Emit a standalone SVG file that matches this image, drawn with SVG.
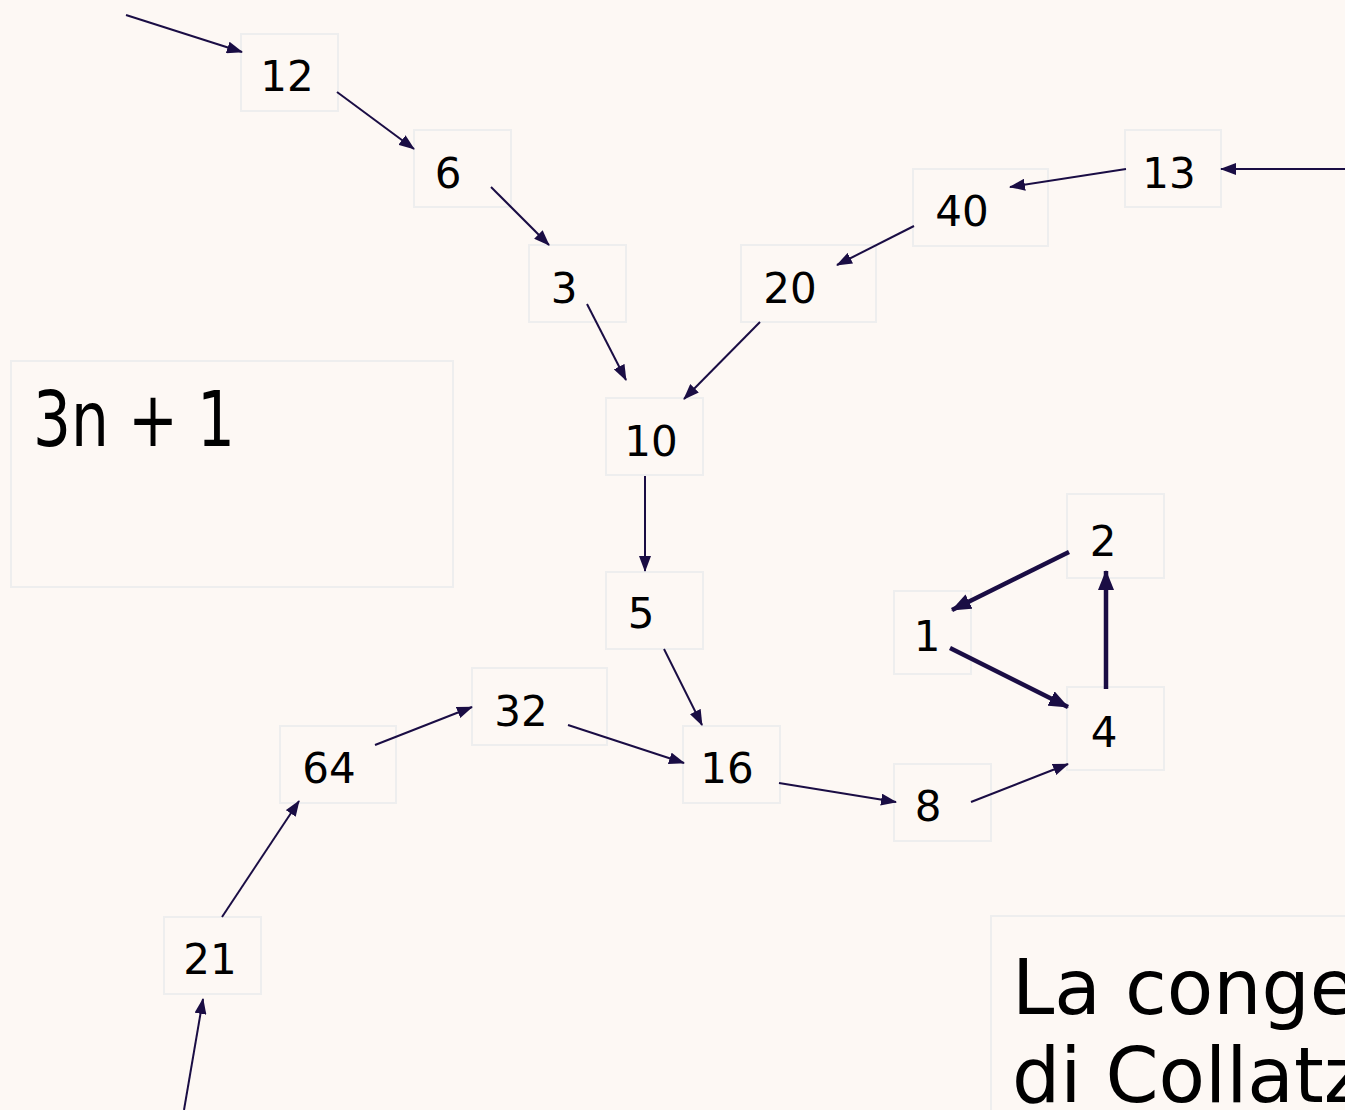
<svg xmlns="http://www.w3.org/2000/svg" width="1345" height="1110" viewBox="0 0 1345 1110">
<style>
.box{fill:none;stroke:#eeeeee;stroke-width:2}
.lbl{font-family:"DejaVu Sans","Liberation Sans",sans-serif;font-size:42px;fill:#000;text-anchor:middle}
.big{font-family:"DejaVu Sans","Liberation Sans",sans-serif;font-size:76px;fill:#000}
.c{stroke:#1a0d44;stroke-width:2;fill:none;marker-end:url(#ah)}
.ct{stroke:#1a0d44;stroke-width:4.5;fill:none;marker-end:url(#ahb)}
</style>
<defs>
<marker id="ah" markerUnits="userSpaceOnUse" markerWidth="16" markerHeight="12" refX="15" refY="6" orient="auto"><path d="M0,0 L16,6 L0,12 z" fill="#1a0d44"/></marker>
<marker id="ahb" markerUnits="userSpaceOnUse" markerWidth="20" markerHeight="16" refX="19" refY="8" orient="auto"><path d="M0,0 L20,8 L0,16 z" fill="#1a0d44"/></marker>
</defs>
<rect width="1345" height="1110" fill="#fdf8f4"/>
<g id="box-3n1"><rect class="box" x="11" y="361" width="442" height="226"/><text class="big" x="33" y="446" font-size="72" textLength="202" lengthAdjust="spacingAndGlyphs">3n + 1</text></g>
<g id="box-title"><rect class="box" x="991" y="916" width="380" height="220"/><text class="big" x="1012" y="1014" font-size="84">La congettura</text><text class="big" x="1012" y="1102" font-size="84">di Collatz</text></g>
<g id="n12"><rect class="box" x="241" y="34" width="97" height="77"/><text class="lbl" x="287" y="91">12</text></g>
<g id="n6"><rect class="box" x="414" y="130" width="97" height="77"/><text class="lbl" x="448" y="188">6</text></g>
<g id="n3"><rect class="box" x="529" y="245" width="97" height="77"/><text class="lbl" x="564" y="303">3</text></g>
<g id="n20"><rect class="box" x="741" y="245" width="135" height="77"/><text class="lbl" x="790" y="303">20</text></g>
<g id="n40"><rect class="box" x="913" y="169" width="135" height="77"/><text class="lbl" x="962" y="226">40</text></g>
<g id="n13"><rect class="box" x="1125" y="130" width="96" height="77"/><text class="lbl" x="1169" y="188">13</text></g>
<g id="n10"><rect class="box" x="606" y="398" width="97" height="77"/><text class="lbl" x="651" y="456">10</text></g>
<g id="n5"><rect class="box" x="606" y="572" width="97" height="77"/><text class="lbl" x="641" y="628">5</text></g>
<g id="n2"><rect class="box" x="1067" y="494" width="97" height="84"/><text class="lbl" x="1103" y="556">2</text></g>
<g id="n1"><rect class="box" x="894" y="591" width="77" height="83"/><text class="lbl" x="927" y="651">1</text></g>
<g id="n4"><rect class="box" x="1067" y="687" width="97" height="83"/><text class="lbl" x="1104" y="747">4</text></g>
<g id="n32"><rect class="box" x="472" y="668" width="135" height="77"/><text class="lbl" x="521" y="726">32</text></g>
<g id="n64"><rect class="box" x="280" y="726" width="116" height="77"/><text class="lbl" x="329" y="783">64</text></g>
<g id="n16"><rect class="box" x="683" y="726" width="97" height="77"/><text class="lbl" x="727" y="783">16</text></g>
<g id="n8"><rect class="box" x="894" y="764" width="97" height="77"/><text class="lbl" x="928" y="821">8</text></g>
<g id="n21"><rect class="box" x="164" y="917" width="97" height="77"/><text class="lbl" x="210" y="974">21</text></g>
<g id="connectors">
<line class="c" x1="126" y1="15" x2="242" y2="52"/>
<line class="c" x1="337" y1="92" x2="414" y2="149"/>
<line class="c" x1="491" y1="187" x2="549" y2="245"/>
<line class="c" x1="587" y1="304" x2="626" y2="380"/>
<line class="c" x1="760" y1="322" x2="684" y2="399"/>
<line class="c" x1="914" y1="226" x2="837" y2="265"/>
<line class="c" x1="1126" y1="169" x2="1010" y2="187"/>
<line class="c" x1="1345" y1="169" x2="1221" y2="169"/>
<line class="c" x1="645" y1="476" x2="645" y2="571"/>
<line class="c" x1="664" y1="649" x2="702" y2="725"/>
<line class="c" x1="568" y1="725" x2="684" y2="763"/>
<line class="c" x1="375" y1="745" x2="472" y2="707"/>
<line class="c" x1="222" y1="917" x2="299" y2="801"/>
<line class="c" x1="184" y1="1110" x2="203" y2="999"/>
<line class="c" x1="779" y1="783" x2="896" y2="802"/>
<line class="c" x1="971" y1="802" x2="1068" y2="764"/>
<line class="ct" x1="1069" y1="552" x2="952" y2="610"/>
<line class="ct" x1="950" y1="648" x2="1068" y2="707"/>
<line class="ct" x1="1106" y1="689" x2="1106" y2="571"/>
</g>
</svg>
